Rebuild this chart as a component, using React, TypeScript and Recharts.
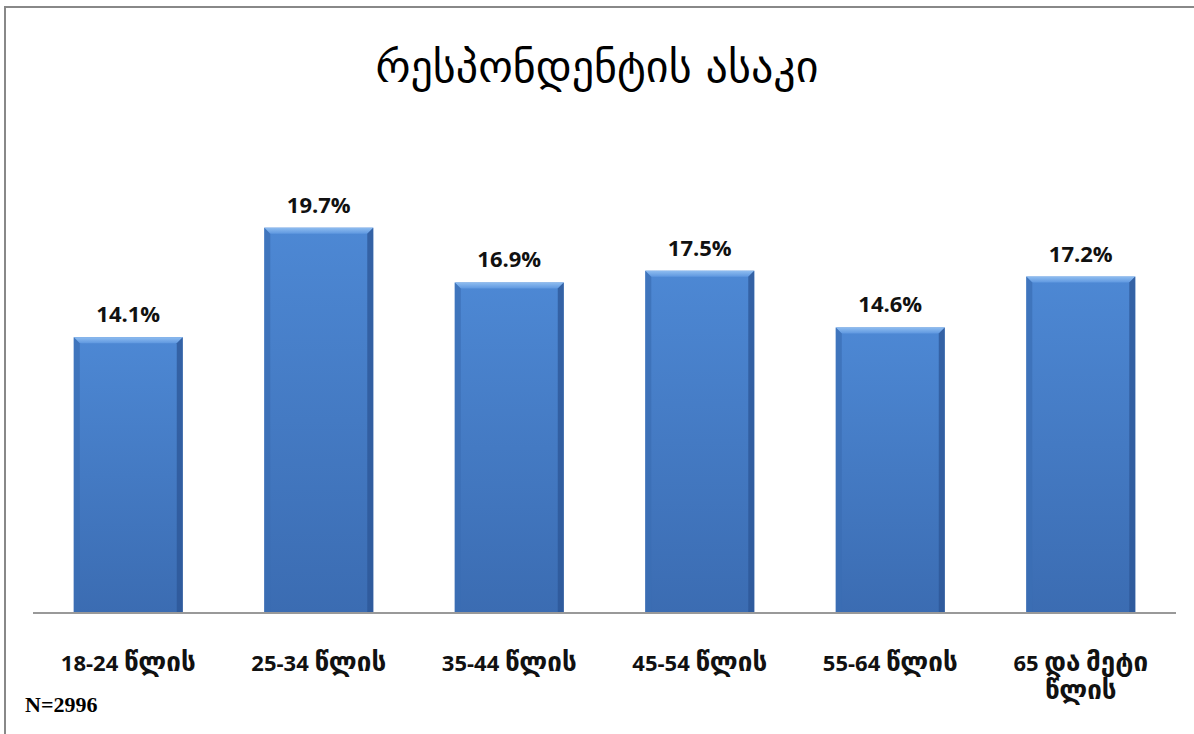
import { BarChart, Bar, XAxis, YAxis, LabelList } from 'recharts';

const categories = ['18-24 წლის', '25-34 წლის', '35-44 წლის', '45-54 წლის', '55-64 წლის', '65 და მეტი წლის'];
const shares = [14.1, 19.7, 16.9, 17.5, 14.6, 17.2];
const tickLines: Record<string, string[]> = {
  '65 და მეტი წლის': ['65 და მეტი', 'წლის'],
};

const data = categories.map((c, i) => ({ name: c, value: shares[i] }));

const latinFont = '"Open Sans", "DejaVu Sans", sans-serif';
const geoFont = '"DejaVu Sans", sans-serif';

// split a line into runs of Georgian / other characters so each gets its own size
function runs(s: string) {
  const out: { text: string; geo: boolean }[] = [];
  for (const ch of s) {
    const geo = /[\u10A0-\u10FF]/.test(ch);
    const last = out[out.length - 1];
    if (last && last.geo === geo) last.text += ch;
    else out.push({ text: ch, geo });
  }
  return out;
}

function BevelBar(props: any) {
  const { x, y, width, height } = props;
  const b = 6;
  return (
    <g>
      <rect x={x} y={y} width={width} height={height} fill="url(#barBody)" />
      <polygon points={`${x},${y} ${x + width},${y} ${x + width - b},${y + b} ${x + b},${y + b}`} fill="url(#barTop)" />
      <polygon points={`${x},${y} ${x + b},${y + b} ${x + b},${y + height} ${x},${y + height}`} fill="#3a6db3" opacity={0.7} />
      <polygon points={`${x + width},${y} ${x + width - b},${y + b} ${x + width - b},${y + height} ${x + width},${y + height}`} fill="#2c5696" opacity={0.75} />
    </g>
  );
}

function CategoryTick(props: any) {
  const { x, y, payload } = props;
  const lines = tickLines[payload.value] ?? [payload.value];
  return (
    <g>
      {lines.map((l, i) => (
        <text key={i} x={x} y={y + 50 + i * 28} textAnchor="middle" fontWeight="bold" fill="#111">
          {runs(l).map((r, j) => (
            <tspan key={j} fontFamily={r.geo ? geoFont : latinFont} fontSize={r.geo ? 26 : 22}>
              {r.text}
            </tspan>
          ))}
        </text>
      ))}
    </g>
  );
}

export default function App() {
  return (
    <div style={{ position: 'absolute', left: 0, top: 0, width: 1194, height: 734, background: '#fff', overflow: 'hidden' }}>
      <div
        style={{
          position: 'absolute',
          left: 4,
          top: 6,
          width: 1200,
          height: 740,
          borderTop: '2px solid #888',
          borderLeft: '2px solid #888',
        }}
      />
      <div
        style={{
          position: 'absolute',
          left: 0,
          width: 1194,
          top: 41,
          textAlign: 'center',
          fontFamily: geoFont,
          fontSize: 44,
          color: '#000',
        }}
      >
        რესპონდენტის ასაკი
      </div>
      <div style={{ position: 'absolute', left: 0, top: 0 }}>
        <BarChart
          width={1194}
          height={734}
          data={data}
          margin={{ top: 124, right: 18, left: 33, bottom: 0 }}
          barCategoryGap="21.4%"
        >
          <defs>
            <linearGradient id="barBody" x1="0" y1="0" x2="0" y2="1">
              <stop offset="0%" stopColor="#4d88d4" />
              <stop offset="100%" stopColor="#3b6cb2" />
            </linearGradient>
            <linearGradient id="barTop" x1="0" y1="0" x2="0" y2="1">
              <stop offset="0%" stopColor="#8fbdf0" />
              <stop offset="100%" stopColor="#5f98e0" />
            </linearGradient>
          </defs>
          <XAxis
            dataKey="name"
            height={121}
            tickLine={false}
            axisLine={{ stroke: '#999', strokeWidth: 2 }}
            tick={<CategoryTick />}
            interval={0}
          />
          <YAxis hide domain={[0, 25]} />
          <Bar dataKey="value" shape={<BevelBar />} isAnimationActive={false}>
            <LabelList
              dataKey="value"
              position="top"
              offset={15}
              formatter={(v: any) => `${Number(v).toFixed(1)}%`}
              style={{ fontFamily: latinFont, fontWeight: 'bold', fontSize: 22, fill: '#111' }}
            />
          </Bar>
        </BarChart>
      </div>
      <div
        style={{
          position: 'absolute',
          left: 25,
          top: 692,
          fontFamily: '"Liberation Serif", serif',
          fontWeight: 'bold',
          fontSize: 22,
          color: '#000',
        }}
      >
        N=2996
      </div>
    </div>
  );
}
